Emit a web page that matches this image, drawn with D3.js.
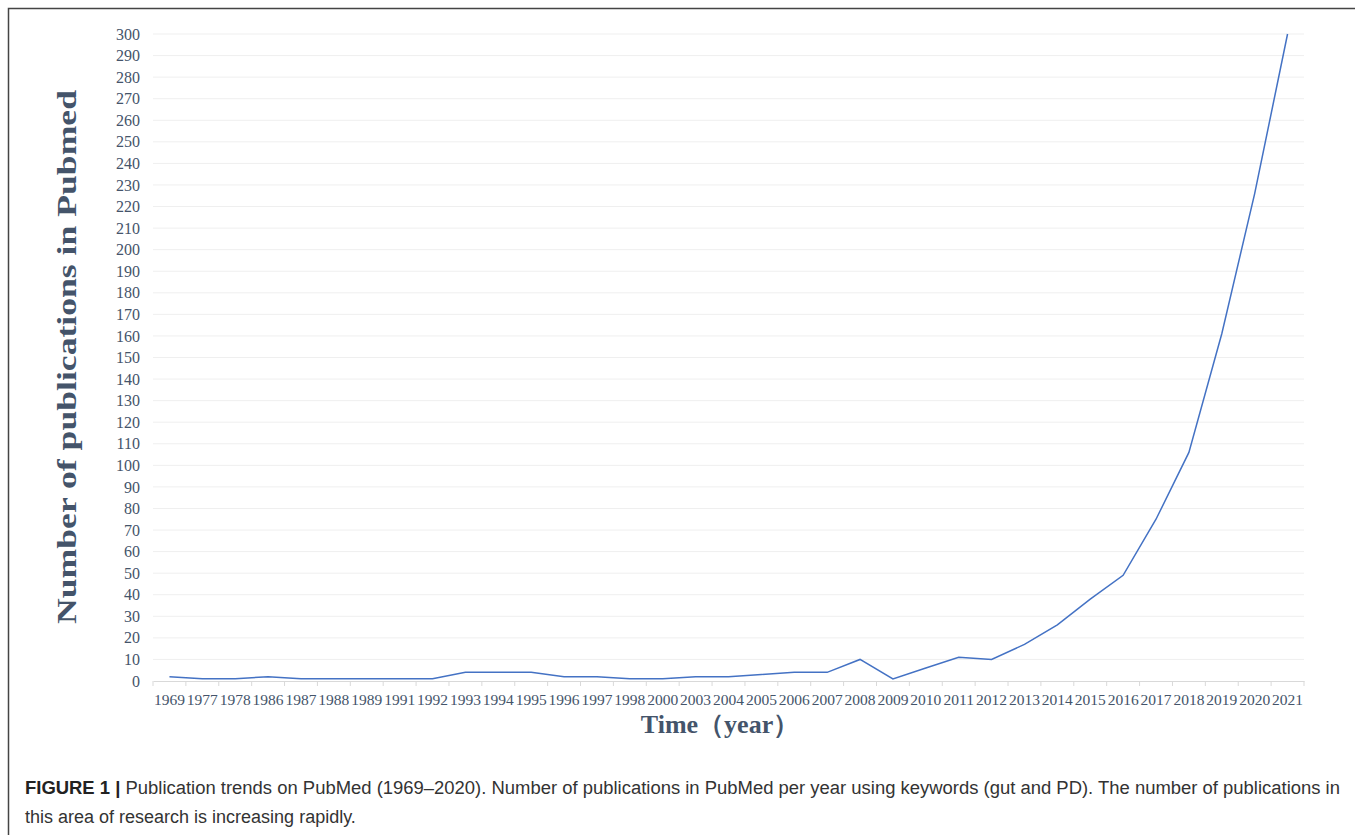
<!DOCTYPE html>
<html><head><meta charset="utf-8">
<script src="https://cdn.jsdelivr.net/npm/d3@7"></script>
<style>html,body{margin:0;padding:0;background:#fff;}svg{display:block;}</style>
</head><body>
<script>
const years = ["1969","1977","1978","1986","1987","1988","1989","1991","1992","1993","1994","1995","1996","1997","1998","2000","2003","2004","2005","2006","2007","2008","2009","2010","2011","2012","2013","2014","2015","2016","2017","2018","2019","2020","2021"];
const counts = [2,1,1,2,1,1,1,1,1,4,4,4,2,2,1,1,2,2,3,4,4,10,1,6,11,10,17,26,38,49,75,106,161,226,300];
const yTicks = d3.range(0, 301, 10);
const yTitle = "Number of publications in Pubmed";
const xTitle = "Time（year）";
const captionBold = "FIGURE 1 |";
const captionLine1 = " Publication trends on PubMed (1969–2020). Number of publications in PubMed per year using keywords (gut and PD). The number of publications in";
const captionLine2 = "this area of research is increasing rapidly.";

(function () {
const W = 1355, H = 835;
const svg = d3.select("body").append("svg").attr("width", W).attr("height", H);

// frame
svg.append("rect").attr("x", 8.5).attr("y", 8.5).attr("width", W + 20).attr("height", H + 20)
  .attr("fill", "none").attr("stroke", "#444").attr("stroke-width", 1.5);

const pLeft = 153, pRight = 1304, pTop = 34, pBottom = 681;
const x = d3.scaleBand().domain(years).range([pLeft, pRight]);
const y = d3.scaleLinear().domain([0, 300]).range([pBottom, pTop]);
const txt = "#44546A";

// grid
svg.append("g").selectAll("line").data(yTicks.filter(d => d > 0)).join("line")
  .attr("x1", pLeft).attr("x2", pRight).attr("y1", d => y(d)).attr("y2", d => y(d))
  .attr("stroke", "#efefef").attr("stroke-width", 1);

// y axis labels
const yAxis = svg.append("g").attr("transform", `translate(${pLeft},0)`)
  .call(d3.axisLeft(y).tickValues(yTicks).tickSize(0).tickPadding(13));
yAxis.select(".domain").remove();
yAxis.selectAll("text").attr("font-family", "Liberation Serif, Times New Roman, serif")
  .attr("font-size", 16).attr("fill", txt);

// x axis
const xAxis = svg.append("g").attr("transform", `translate(0,${pBottom})`)
  .call(d3.axisBottom(x).tickSize(0).tickPadding(13));
xAxis.select(".domain").attr("stroke", "#d9d9d9");
xAxis.selectAll("text").attr("font-family", "Liberation Serif, Times New Roman, serif")
  .attr("font-size", 15.5).attr("fill", txt);
// tick marks at band boundaries
const bounds = years.map(d => x(d)).concat([x(years[years.length - 1]) + x.bandwidth()]);
svg.append("g").selectAll("line").data(bounds).join("line")
  .attr("x1", d => d).attr("x2", d => d).attr("y1", pBottom).attr("y2", pBottom + 5)
  .attr("stroke", "#d9d9d9");

// line
const line = d3.line().x((d, i) => x(years[i]) + x.bandwidth() / 2).y(d => y(d));
svg.append("path").datum(counts).attr("d", line)
  .attr("fill", "none").attr("stroke", "#4472C4").attr("stroke-width", 1.5);

// titles
svg.append("text").attr("transform", `translate(76,357) rotate(-90) scale(1.32,1)`)
  .attr("text-anchor", "middle").attr("font-family", "Liberation Serif, Times New Roman, serif")
  .attr("font-weight", "bold").attr("font-size", 27).attr("fill", txt).text(yTitle);
svg.append("text").attr("x", 720).attr("y", 733)
  .attr("text-anchor", "middle").attr("font-family", "Liberation Serif, Times New Roman, serif")
  .attr("font-weight", "bold").attr("font-size", 26).attr("fill", txt).text(xTitle);

// caption
const cap = svg.append("text").attr("x", 25).attr("y", 794)
  .attr("font-family", "Liberation Sans, Arial, sans-serif").attr("font-size", 18).attr("fill", "#333")
  .attr("textLength", 1315).attr("lengthAdjust", "spacingAndGlyphs");
cap.append("tspan").attr("font-weight", "bold").attr("fill", "#222").text(captionBold);
cap.append("tspan").text(captionLine1);
svg.append("text").attr("x", 25).attr("y", 823)
  .attr("font-family", "Liberation Sans, Arial, sans-serif").attr("font-size", 18).attr("fill", "#333")
  .text(captionLine2);
})();
</script>
</body></html>
